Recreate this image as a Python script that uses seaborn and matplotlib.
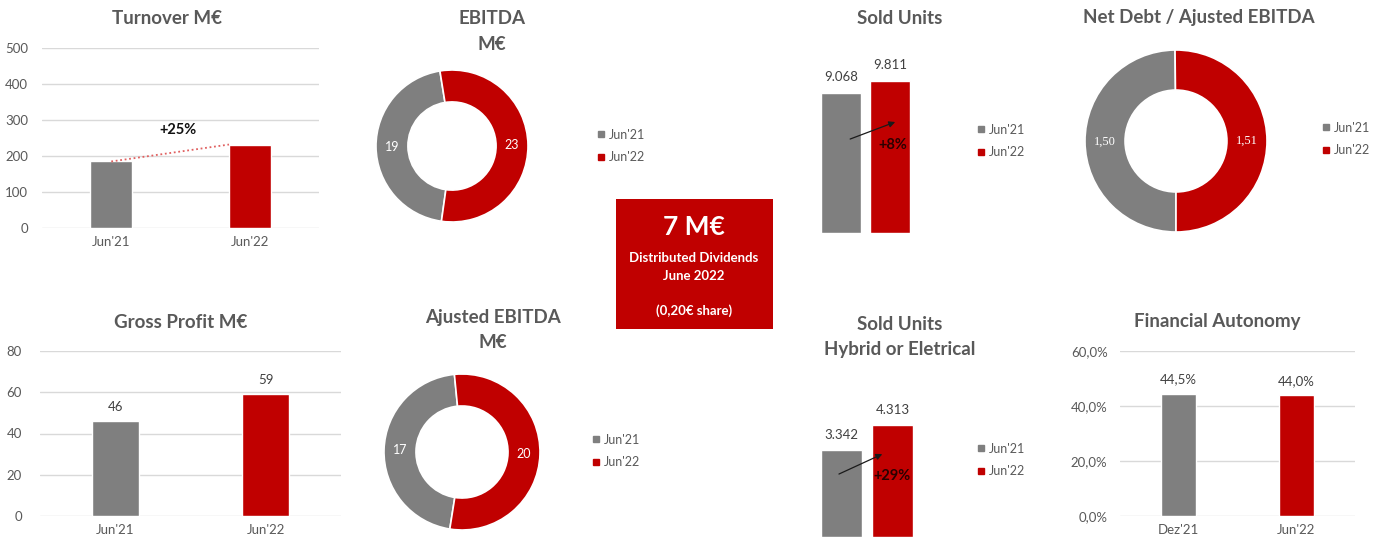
import matplotlib
matplotlib.use("Agg")
import matplotlib.pyplot as plt
from matplotlib.lines import Line2D
from matplotlib.patches import Rectangle
import seaborn as sns
import pandas as pd

# ---------------- data ----------------
periods = ["Jun'21", "Jun'22"]
turnover = [184, 231]
turnover_growth = "+25%"
gross_profit = [46, 59]
ebitda = [19, 23]
ajusted_ebitda = [17, 20]
sold_units = [9068, 9811]
sold_units_growth = "+8%"
sold_hybrid = [3342, 4313]
sold_hybrid_growth = "+29%"
net_debt_ratio = [1.50, 1.51]
autonomy_periods = ["Dez'21", "Jun'22"]
financial_autonomy = [44.5, 44.0]
dividends_lines = ["7 M€", "Distributed Dividends", "June 2022", "(0,20€ share)"]

turnover_ticks = [0, 100, 200, 300, 400, 500]
gross_ticks = [0, 20, 40, 60, 80]
autonomy_ticks = [0, 20, 40, 60]

# ---------------- style ----------------
sns.set_theme(style="white")
plt.rcParams["font.family"] = ["Lato", "DejaVu Sans"]

GRAY = "#7F7F7F"
RED = "#C00000"
GRID = "#D9D9D9"
TXT = "#595959"
LBL = "#404040"

W, H = 1383, 544
fig = plt.figure(figsize=(W / 100, H / 100), dpi=100)
fig.patch.set_facecolor("white")


def px_axes(x0, y0, x1, y1):
    return fig.add_axes([x0 / W, 1 - y1 / H, (x1 - x0) / W, (y1 - y0) / H])


def ftext(x, y, s, **kw):
    kw.setdefault("ha", "center")
    kw.setdefault("va", "center")
    return fig.text(x / W, 1 - y / H, s, **kw)


def title(x, y, s, size=13.5):
    ftext(x, y, s, fontsize=size, fontweight="bold", color=TXT)


def legend(ax, x, y, labels=periods):
    handles = [Line2D([], [], marker="s", linestyle="none", markersize=5,
                      color=c) for c in (GRAY, RED)]
    ax.legend(handles, labels, loc="center left",
              bbox_to_anchor=(x / W, 1 - y / H), bbox_transform=fig.transFigure,
              frameon=False, fontsize=9, labelcolor=TXT, handlelength=0.7,
              handletextpad=0.25, labelspacing=0.85, borderpad=0, borderaxespad=0)


def grid_bars(ax, cats, vals, ticks, width, fmt=None, pad=8):
    df = pd.DataFrame({"period": cats, "value": vals})
    sns.barplot(data=df, x="period", y="value", hue="period",
                palette=[GRAY, RED], width=width, saturation=1,
                legend=False, ax=ax, zorder=3)
    ax.set_xlim(-0.5, 1.5)
    ax.set_ylim(ticks[0], ticks[-1])
    ax.set_yticks(ticks)
    if fmt:
        ax.set_yticklabels([fmt(t) for t in ticks])
    ax.set_xlabel("")
    ax.set_ylabel("")
    for s in ax.spines.values():
        s.set_visible(False)
    ax.yaxis.grid(True, color=GRID, linewidth=1, zorder=0)
    ax.set_axisbelow(True)
    ax.tick_params(axis="y", length=0, pad=pad, labelsize=9.5, labelcolor=TXT)
    ax.tick_params(axis="x", length=0, pad=6, labelsize=9.5, labelcolor=TXT)
    ax.set_facecolor("none")
    return ax


# ---------------- Turnover ----------------
ax1 = px_axes(42, 47.7, 319, 227.7)
grid_bars(ax1, periods, turnover, turnover_ticks, 0.3, pad=10)
ax1.plot([0, 0.85], turnover, linestyle=(0, (1, 1.5)), color="#E06060",
         linewidth=1.3, zorder=4)
ax1.text(0.48, 271, turnover_growth, ha="center", va="center",
         fontsize=10.5, fontweight="bold", color="#111111")
title(167, 18, "Turnover M€")

# ---------------- Gross profit ----------------
ax2 = px_axes(40, 351, 341, 516)
grid_bars(ax2, periods, gross_profit, gross_ticks, 0.31, pad=13)
for c in ax2.containers:
    ax2.bar_label(c, fmt="%d", padding=6, fontsize=9.5, color=LBL)
title(181, 322, "Gross Profit M€")

# ---------------- Financial autonomy ----------------
pct = lambda v: f"{v:.1f}%".replace(".", ",")
ax3 = px_axes(1120, 351, 1355, 516)
grid_bars(ax3, autonomy_periods, financial_autonomy, autonomy_ticks, 0.3,
          fmt=pct, pad=9)
for c in ax3.containers:
    ax3.bar_label(c, fmt=pct, padding=6, fontsize=9.5, color=LBL)
title(1217, 322, "Financial Autonomy")


# ---------------- Donuts ----------------
def donut(cx, cy, r, vals, start, width, fmt, lab_font=None):
    ax = px_axes(cx - r, cy - r, cx + r, cy + r)
    total = sum(vals)
    tp = dict(color="white", fontsize=9)
    if lab_font:
        tp["family"] = lab_font
    ax.pie(vals, colors=[GRAY, RED], startangle=start, counterclock=False,
           wedgeprops=dict(width=width, edgecolor="white", linewidth=1.2),
           autopct=lambda p: fmt(p * total / 100), pctdistance=1 - width / 2,
           textprops=tp)
    ax.set_xlim(-1, 1)
    ax.set_ylim(-1, 1)
    return ax


ax4 = donut(452, 146, 76, ebitda, -98, 0.42, lambda v: f"{v:.0f}")
legend(ax4, 597, 146)
title(492, 18, "EBITDA")
title(492, 44, "M€")

ax5 = donut(462, 452, 78, ajusted_ebitda, -99, 0.41, lambda v: f"{v:.0f}")
legend(ax5, 592, 451)
title(493, 317, "Ajusted EBITDA")
title(493, 343, "M€")

ax6 = donut(1176, 141, 91, net_debt_ratio, -90, 0.44,
            lambda v: f"{v:.2f}".replace(".", ","), lab_font="Liberation Serif")
legend(ax6, 1322, 139)
title(1199, 17, "Net Debt / Ajusted EBITDA")


# ---------------- Sold units (no axes) ----------------
thousands = lambda v: f"{v:,.0f}".replace(",", ".")


def plain_bars(x0, x1, y_bottom, units_per_px, y_top, vals, growth,
               arrow_from, arrow_to, growth_xy):
    ax = px_axes(x0, y_top, x1, y_bottom)
    df = pd.DataFrame({"period": periods, "value": vals})
    sns.barplot(data=df, x="period", y="value", hue="period",
                palette=[GRAY, RED], width=0.8, saturation=1, legend=False, ax=ax)
    ax.set_xlim(-0.5, 1.5)
    ax.set_ylim(0, (y_bottom - y_top) * units_per_px)
    ax.axis("off")
    for c in ax.containers:
        ax.bar_label(c, fmt=thousands, padding=7, fontsize=9.5, color=LBL)
    ax.annotate("", xy=arrow_to, xytext=arrow_from,
                arrowprops=dict(arrowstyle="-|>", color="#1a1a1a", lw=0.9,
                                mutation_scale=9, shrinkA=0, shrinkB=0))
    ax.text(*growth_xy, growth, ha="center", va="center", fontsize=10.5,
            fontweight="bold", color="#2a0000")
    return ax


ax7 = plain_bars(816, 915, 233, 64.6, 40, sold_units, sold_units_growth,
                 (0.19, 6070), (1.10, 7170), (1.05, 5690))
legend(ax7, 977, 141)
title(900, 18, "Sold Units")

ax8 = plain_bars(816, 918, 537, 38.6, 380, sold_hybrid, sold_hybrid_growth,
                 (-0.05, 2430), (0.80, 3200), (1.0, 2360))
legend(ax8, 977, 460)
title(900, 325, "Sold Units")
title(900, 350, "Hybrid or Eletrical")

# ---------------- Dividends box ----------------
fig.patches.append(Rectangle((616 / W, 1 - 329 / H), (773 - 616) / W, (329 - 199) / H,
                             transform=fig.transFigure, facecolor=RED,
                             edgecolor="none", zorder=0))
ftext(694, 227, dividends_lines[0], fontsize=19, fontweight="bold", color="white")
ftext(694, 258, dividends_lines[1], fontsize=9.5, fontweight="bold", color="white")
ftext(694, 276, dividends_lines[2], fontsize=9.5, fontweight="bold", color="white")
ftext(694, 311, dividends_lines[3], fontsize=9.5, fontweight="bold", color="white")

fig.savefig("out.png", dpi=100, facecolor="white")
